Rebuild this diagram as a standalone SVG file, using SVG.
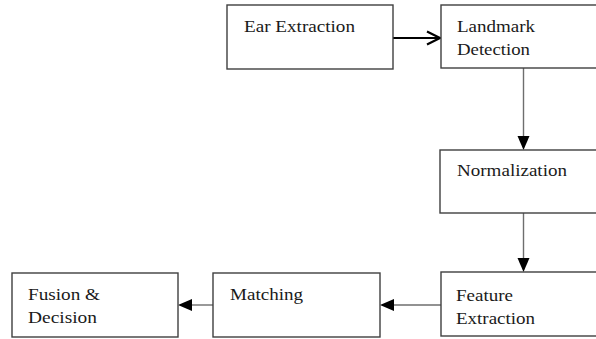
<svg xmlns="http://www.w3.org/2000/svg" width="596" height="339" viewBox="0 0 596 339">
  <style>
    .box { fill: #ffffff; stroke: #3f3f3f; stroke-width: 1.4; }
    .lbl { font-family: "Liberation Serif", "Times New Roman", "DejaVu Serif", serif; font-size: 17.5px; fill: #1a1a1a; }
    .wire { fill: none; stroke: #6e6e6e; stroke-width: 1.4; }
    .bold { fill: none; stroke: #000000; stroke-width: 2.2; }
    .head { fill: #000000; }
  </style>
  <rect x="0" y="0" width="596" height="339" fill="#ffffff"/>

  <g id="connectors">
    <!-- Ear Extraction -> Landmark Detection (open chevron) -->
    <line class="bold" x1="393" y1="38" x2="440" y2="38"/>
    <polyline class="bold" points="427,31.5 440,38 427,44.5"/>
    <!-- Landmark Detection -> Normalization -->
    <line class="wire" x1="523.5" y1="68" x2="523.5" y2="138"/>
    <polygon class="head" points="517.5,136 529.5,136 523.5,150"/>
    <!-- Normalization -> Feature Extraction -->
    <line class="wire" x1="523.5" y1="213" x2="523.5" y2="260"/>
    <polygon class="head" points="517.5,258 529.5,258 523.5,272"/>
    <!-- Feature Extraction -> Matching -->
    <line class="wire" x1="441" y1="305" x2="392" y2="305"/>
    <polygon class="head" points="394,299 394,311 380,305"/>
    <!-- Matching -> Fusion & Decision -->
    <line class="wire" x1="213" y1="305" x2="190" y2="305"/>
    <polygon class="head" points="192,299 192,311 178,305"/>
  </g>

  <g id="ear-extraction">
    <rect class="box" x="227" y="5" width="166" height="64"/>
    <text class="lbl" x="244" y="32" textLength="111" lengthAdjust="spacingAndGlyphs">Ear Extraction</text>
  </g>

  <g id="landmark-detection">
    <rect class="box" x="441" y="5" width="170" height="63"/>
    <text class="lbl" x="457" y="32" textLength="78" lengthAdjust="spacingAndGlyphs">Landmark</text>
    <text class="lbl" x="457" y="55" textLength="73" lengthAdjust="spacingAndGlyphs">Detection</text>
  </g>

  <g id="normalization">
    <rect class="box" x="440" y="150" width="171" height="63"/>
    <text class="lbl" x="457" y="176" textLength="110" lengthAdjust="spacingAndGlyphs">Normalization</text>
  </g>

  <g id="feature-extraction">
    <rect class="box" x="441" y="272" width="170" height="64"/>
    <text class="lbl" x="456" y="301" textLength="57" lengthAdjust="spacingAndGlyphs">Feature</text>
    <text class="lbl" x="456" y="324" textLength="79" lengthAdjust="spacingAndGlyphs">Extraction</text>
  </g>

  <g id="matching">
    <rect class="box" x="213" y="273" width="167" height="64"/>
    <text class="lbl" x="230" y="300" textLength="73" lengthAdjust="spacingAndGlyphs">Matching</text>
  </g>

  <g id="fusion-decision">
    <rect class="box" x="12" y="273" width="166" height="64"/>
    <text class="lbl" x="28" y="300" textLength="72" lengthAdjust="spacingAndGlyphs">Fusion &amp;</text>
    <text class="lbl" x="28" y="323" textLength="69" lengthAdjust="spacingAndGlyphs">Decision</text>
  </g>
</svg>
